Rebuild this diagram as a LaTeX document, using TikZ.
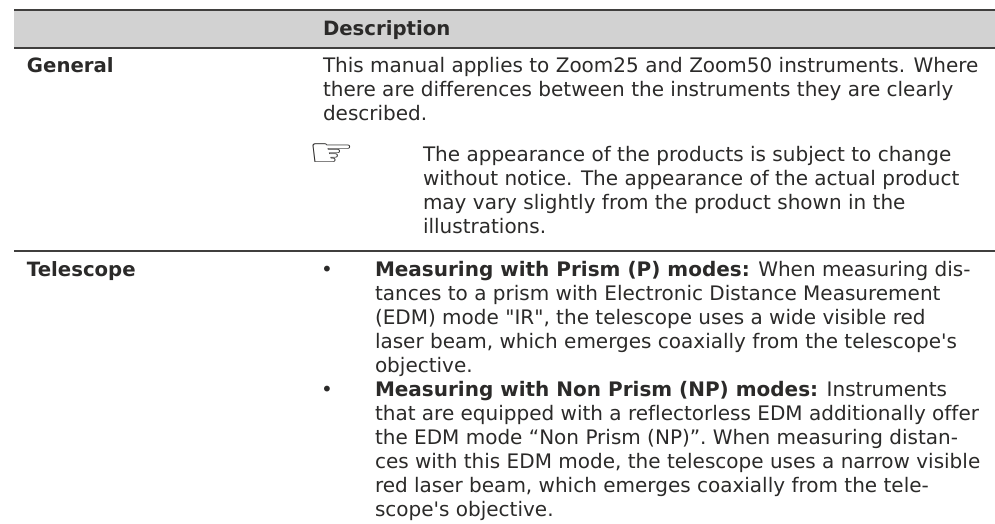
\documentclass[tikz,border=0pt]{standalone}
\usepackage{fontspec}
\defaultfontfeatures[\rmfamily]{Ligatures=NoCommon}
\setmainfont{DejaVu Sans}
\definecolor{ink}{HTML}{2B2A29}
\definecolor{band}{HTML}{D2D2D2}
\tikzset{
  txt/.style={anchor=base west,inner sep=0pt,outer sep=0pt,text=ink,font=\fontsize{20}{24}\selectfont},
  bld/.style={txt,font=\fontsize{19.7}{24}\selectfont\bfseries},
  rulel/.style={draw=ink!90,line width=1.2pt}
}
\begin{document}
\begin{tikzpicture}[x=1pt,y=-1pt]
\useasboundingbox (0,0) rectangle (995,523);
\fill[band] (14,10) rectangle (995,48);
\draw[rulel] (14,10) -- (995,10);
\draw[rulel] (14,48) -- (995,48);
\draw[rulel] (14,251) -- (995,251);
\node[bld] (hd) at (323,35) {Description};
\node[bld] (g) at (27,72) {General};
\node[txt] (a1) at (323,72) {This manual applies to Zoom25 and Zoom50 instruments. Where};
\node[txt] (a2) at (323,96) {there are differences between the instruments they are clearly};
\node[txt] (a3) at (323,120) {described.};
\node[txt] (hand) at (308,166) {\scalebox{1.3}[1]{\fontsize{40}{40}\selectfont ☞}};
\node[txt] (b1) at (423,161) {The appearance of the products is subject to change};
\node[txt] (b2) at (423,185) {without notice. The appearance of the actual product};
\node[txt] (b3) at (423,209) {may vary slightly from the product shown in the};
\node[txt] (b4) at (423,233) {illustrations.};
\node[bld] (t) at (27,276) {Telescope};
\node[txt] (d1) at (321,276) {•};
\node[txt] (c1) at (375,276) {\textbf{Measuring with Prism (P) modes:} When measuring dis-};
\node[txt] (c2) at (375,300) {tances to a prism with Electronic Distance Measurement};
\node[txt] (c3) at (375,324) {(EDM) mode "IR", the telescope uses a wide visible red};
\node[txt] (c4) at (375,348) {laser beam, which emerges coaxially from the telescope's};
\node[txt] (c5) at (375,372) {objective.};
\node[txt] (d2) at (321,396) {•};
\node[txt] (c6) at (375,396) {\textbf{Measuring with Non Prism (NP) modes:} Instruments};
\node[txt] (c7) at (375,420) {that are equipped with a reflectorless EDM additionally offer};
\node[txt] (c8) at (375,444) {the EDM mode “Non Prism (NP)”. When measuring distan-};
\node[txt] (c9) at (375,468) {ces with this EDM mode, the telescope uses a narrow visible};
\node[txt] (c10) at (375,492) {red laser beam, which emerges coaxially from the tele-};
\node[txt] (c11) at (375,516) {scope's objective.};
\end{tikzpicture}
\end{document}
